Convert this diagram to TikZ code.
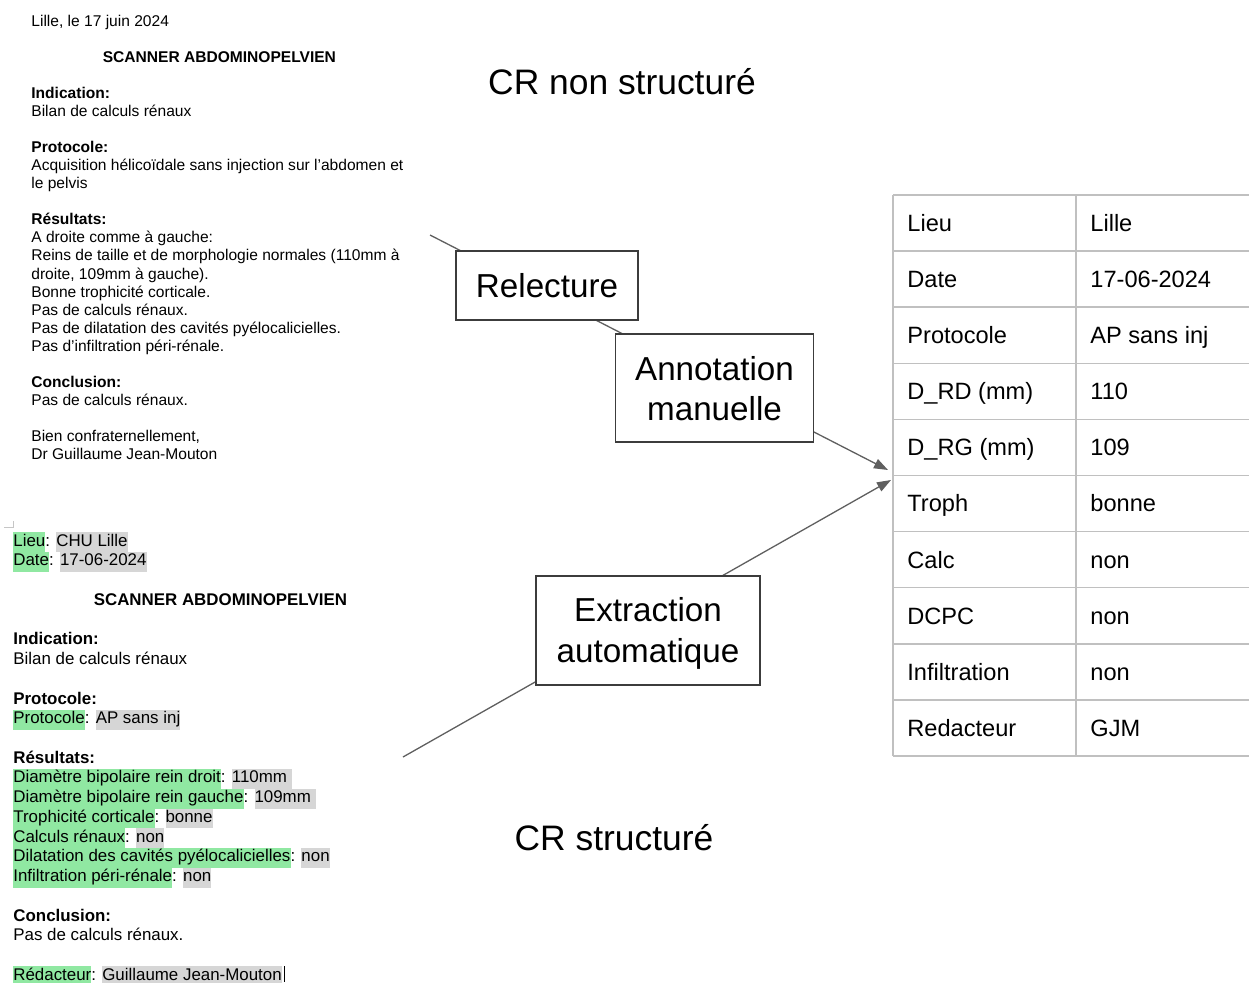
\documentclass[tikz,border=0pt]{standalone}
\usepackage{fontspec}
\setmainfont{Liberation Sans}
\usetikzlibrary{arrows.meta}
\definecolor{hlg}{RGB}{144,232,162}
\definecolor{hlv}{RGB}{214,214,214}
\definecolor{boxline}{RGB}{60,60,60}
\definecolor{arrowc}{RGB}{95,95,95}
\definecolor{gridc}{RGB}{192,192,192}
\newcommand\hk[1]{{\setlength\fboxsep{0pt}\colorbox{hlg}{\strut#1}}}
\newcommand\hv[1]{{\setlength\fboxsep{0pt}\colorbox{hlv}{\strut#1}}}
\begin{document}
\begin{tikzpicture}[x=0.5pt,y=-0.5pt,
  report/.style={anchor=north west, inner sep=0pt, align=left},
  method/.style={draw=boxline, line width=0.75pt, fill=white, align=center,
    font=\fontsize{16.6}{20}\selectfont, inner sep=0pt, text depth=0pt},
  flow/.style={draw=arrowc, line width=0.65pt, -{Triangle[length=7pt,width=5pt]}},
  cell/.style={anchor=base west, inner sep=0pt, font=\fontsize{11.8}{14}\selectfont},
  title/.style={anchor=base, inner sep=0pt, font=\fontsize{17.7}{21}\selectfont},
  gridline/.style={draw=gridc, line width=0.75pt}
]
\useasboundingbox (0,0) rectangle (1249,982);

% unstructured report
\node[report, font=\fontsize{7.78}{9.02}\selectfont] (cr1) at (31,13.4) {%
\strut Lille, le 17 juin 2024\\[9.02pt]
\makebox[188pt][c]{\textbf{SCANNER ABDOMINOPELVIEN}}\\[9.02pt]
\textbf{Indication:}\\
Bilan de calculs rénaux\\[9.02pt]
\textbf{Protocole:}\\
Acquisition hélicoïdale sans injection sur l’abdomen et\\
le pelvis\\[9.02pt]
\textbf{Résultats:}\\
A droite comme à gauche:\\
Reins de taille et de morphologie normales (110mm à\\
droite, 109mm à gauche).\\
Bonne trophicité corticale.\\
Pas de calculs rénaux.\\
Pas de dilatation des cavités pyélocalicielles.\\
Pas d’infiltration péri-rénale.\\[9.02pt]
\textbf{Conclusion:}\\
Pas de calculs rénaux.\\[9.02pt]
Bien confraternellement,\\
Dr Guillaume Jean-Mouton};

% structured report
\draw[gray!45, line width=0.4pt] (4,527) -- (13,527) (13,521) -- (13,528);
\node[report, font=\fontsize{8.45}{9.865}\selectfont] (cr2) at (13,532) {%
\hk{Lieu}: \hv{CHU Lille}\\
\hk{Date}: \hv{17-06-2024}\\[9.865pt]
\makebox[207pt][c]{\textbf{SCANNER ABDOMINOPELVIEN}}\\[9.865pt]
\textbf{Indication:}\\
Bilan de calculs rénaux\\[9.865pt]
\textbf{Protocole:}\\
\hk{Protocole}: \hv{AP sans inj}\\[9.865pt]
\textbf{Résultats:}\\
\hk{Diamètre bipolaire rein droit}: \hv{110mm\ }\\
\hk{Diamètre bipolaire rein gauche}: \hv{109mm\ }\\
\hk{Trophicité corticale}: \hv{bonne}\\
\hk{Calculs rénaux}: \hv{non}\\
\hk{Dilatation des cavités pyélocalicielles}: \hv{non}\\
\hk{Infiltration péri-rénale}: \hv{non}\\[9.865pt]
\textbf{Conclusion:}\\
Pas de calculs rénaux.\\[9.865pt]
\hk{Rédacteur}: \hv{Guillaume Jean-Mouton}};
\draw[black, line width=0.5pt] (284.5,966) -- (284.5,982);

% titles
\node[title] (tns) at (622,94.7) {CR non structuré};
\node[title] (ts) at (614,850.7) {CR structuré};

% table
\foreach \i in {0,...,10} {
  \draw[gridline] (893,{195+56.1*\i}) -- (1249,{195+56.1*\i});
}
\draw[gridline] (893,195) -- (893,756);
\draw[gridline] (1076,195) -- (1076,756);
\foreach \k/\v [count=\i from 0] in {Lieu/Lille, Date/17-06-2024, Protocole/AP sans inj,
  D\_RD (mm)/110, D\_RG (mm)/109, Troph/bonne, Calc/non, DCPC/non,
  Infiltration/non, Redacteur/GJM} {
  \node[cell] (k\i) at (907,{195+56.1*(\i+0.5)+8.4}) {\k};
  \node[cell] (v\i) at (1090,{195+56.1*(\i+0.5)+8.4}) {\v};
}

% connectors
\coordinate (s1) at (430,235);
\coordinate (t1) at (888,470);
\coordinate (s2) at (403,757);
\coordinate (t2) at (891,480);
\draw[flow] (s1) -- (t1);
\draw[flow] (s2) -- (t2);

% method boxes
\node[method, minimum width=91pt, minimum height=34.5pt] (relec) at (547,285.5) {Relecture};
\node[method, minimum width=98.8pt, minimum height=54.15pt] (annot) at (714.5,388) {Annotation\\manuelle};
\node[method, minimum width=112pt, minimum height=54.65pt, font=\fontsize{16.6}{20.5}\selectfont] (extr) at (648,630.4) {Extraction\\automatique};
\end{tikzpicture}
\end{document}
